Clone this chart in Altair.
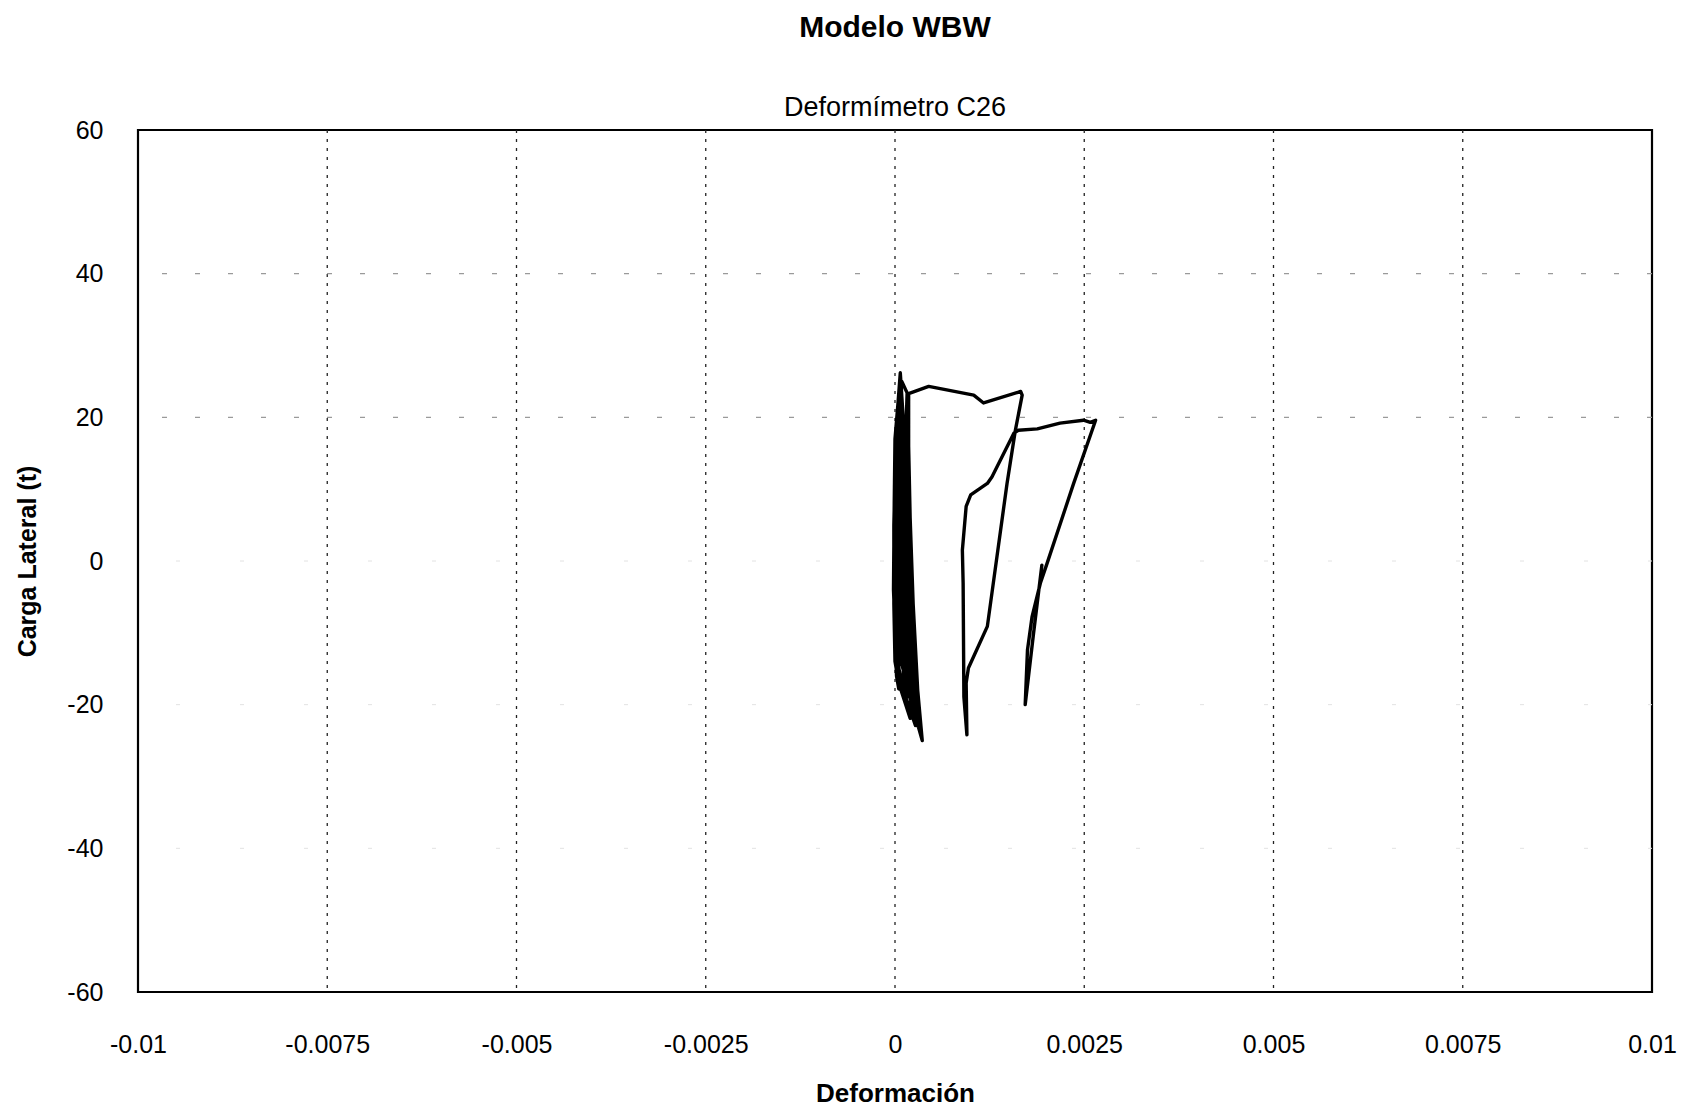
import altair as alt
import pandas as pd

# Hysteresis record of strain gauge C26: strain (x1e-4) and lateral load (t), in test order
strain_e4 = [
    0.0,
    # small cycles, growing amplitude
    0.2, 0.3, 0.2, 0.3, 0.5, 0.7, 0.5, 0.3,
    0.3, 0.4, 0.6, 0.4,
    0.5, 0.5, 0.2, 0.2, 0.5, 1.0, 0.9, 0.7,
    0.6, 0.3, 0.4, 1.1, 0.8,
    0.7, 0.6, 0.2, 0.0, 0.2, 0.8, 1.4, 1.3, 1.1, 0.9,
    0.7, 0.3, 0.1, 0.4, 1.4, 1.5, 1.2,
    1.0, 0.8, 0.3, 0.0, -0.1, 0.0, 0.4, 1.6, 1.8, 1.6, 1.3,
    0.8, 0.6, 0.1, -0.1, -0.1, 0.2, 0.5, 1.1, 1.8, 1.7, 1.5,
    1.0, 0.5, 0.1, -0.15, -0.15, 0.0, 0.5, 2.0, 2.2, 1.9, 1.6,
    1.3, 0.9, 0.4, 0.2, 0.3, 0.8, 2.3, 2.1, 1.7, 1.4,
    1.4, 1.0, 0.6, 0.2, 0.1, 0.0, 0.1, 0.5, 1.6, 1.9, 1.7, 1.5, 1.3,
    0.9, 0.4, 0.3, 0.4, 0.6, 1.0, 2.4, 2.2, 1.8, 1.4,
    1.1, 0.8, 0.5, 0.6, 0.8, 1.0, 1.3, 3.0, 2.8, 2.0, 1.2, 1.0,
    1.2, 0.7, 0.4, 0.0, -0.1, -0.2, 0.1, 0.8, 2.7, 2.6, 2.3, 1.9, 1.6, 1.5, 1.6,
    0.9, 0.3, 0.0, 0.2, 1.2, 3.6, 3.0, 2.4, 2.0, 1.8,
    # first large loop
    1.8, 4.45, 10.4, 11.7, 16.6, 16.8, 15.9, 14.8, 12.2, 9.7, 9.4, 9.5,
    9.1, 9.0, 8.9, 9.4, 10.0, 12.2, 12.8, 15.7, 16.3,
    # second large loop
    18.8, 21.8, 24.9, 25.8, 26.5, 23.6, 20.1, 19.2, 18.1, 17.5, 17.2,
    18.3, 19.4,
]
load_t = [
    0.0,
    3, 6, 3, 0, -3, -6, -3, 0,
    6, 3, -6, 0,
    5, 10, 5, 0, -5, -10, -5, 0,
    10, 4, -4, -10, 0,
    7, 14, 8, 0, -7, -14, -12, -4, 4, 10,
    14, 9, 0, -10, -14, -6, 4,
    12, 18, 14, 6, -4, -12, -17, -16, -8, 2, 10,
    12, 20, 14, 4, -8, -16, -17.8, -18, -12, 0, 10,
    18, 23, 17, 5, -6, -14, -17, -21.9, -14, -2, 8,
    16, 22, 18, 8, -4, -14, -20, -10, 2, 12,
    14, 21, 24, 19, 10, 0, -9, -15, -19, -12, -4, 6, 15,
    22, 20, 12, 2, -8, -14, -21, -13, -3, 8,
    17, 24, 21, 10, 0, -8, -15, -23, -15, -4, 6, 15,
    18, 26.2, 22, 17, 8, -4, -12, -17, -22.9, -16, -6, 4, 14, 20, 23.4,
    25, 18, 6, -8, -16, -25, -18, -6, 6, 16,
    23.3, 24.3, 23.1, 22.0, 23.6, 23.1, 18.2, 10.8, -9.1, -14.9, -17.0, -24.2,
    -18.9, -3.1, 1.5, 7.6, 9.2, 10.8, 11.7, 17.8, 18.2,
    18.4, 19.2, 19.6, 19.3, 19.6, 10.8, -0.3, -3.1, -7.8, -12.4, -20.0,
    -10.1, -0.6,
]

x_ticks = [-0.01, -0.0075, -0.005, -0.0025, 0, 0.0025, 0.005, 0.0075, 0.01]
y_ticks = [-60, -40, -20, 0, 20, 40, 60]
x_grid = [-0.0075, -0.005, -0.0025, 0, 0.0025, 0.005, 0.0075]
y_grid_upper = [40, 20]
y_grid_lower = [0, -20, -40]

FONT = "Liberation Sans"
W, H = 1514, 862

curve = pd.DataFrame({
    "i": range(len(strain_e4)),
    "strain": [s * 1e-4 for s in strain_e4],
    "load": load_t,
})

x_scale = alt.Scale(domain=[-0.01, 0.01], nice=False, zero=False)
y_scale = alt.Scale(domain=[-60, 60], nice=False, zero=False)

x_axis = alt.Axis(
    values=x_ticks, labelExpr="toString(datum.value)", grid=False, ticks=False,
    domain=False, labelFont=FONT, labelFontSize=25, labelColor="black",
    labelPadding=40, labelFlush=False, title="Deformación", titleFont=FONT,
    titleFontSize=26, titleFontWeight="bold", titleColor="black",
    titleX=W / 2, titleY=101, titleBaseline="middle", titleAlign="center",
)
y_axis = alt.Axis(
    values=y_ticks, labelExpr="toString(datum.value)", grid=False, ticks=False,
    domain=False, labelFont=FONT, labelFontSize=25, labelColor="black",
    labelPadding=35, labelFlush=False, title="Carga Lateral (t)", titleFont=FONT,
    titleFontSize=25, titleFontWeight="bold", titleColor="black",
    titleX=-111, titleY=H / 2, titleAngle=270, titleBaseline="middle",
    titleAlign="center",
)

vgrid = alt.Chart(pd.DataFrame({"v": x_grid})).mark_rule(
    color="#222", strokeWidth=1.3, strokeDash=[3, 6]
).encode(x=alt.X("v:Q", scale=x_scale, axis=x_axis))

hgrid_up = alt.Chart(pd.DataFrame({"v": y_grid_upper})).mark_rule(
    color="#9a9a9a", strokeWidth=1.2, strokeDash=[5, 28]
).encode(y=alt.Y("v:Q", scale=y_scale, axis=y_axis))

hgrid_low = alt.Chart(pd.DataFrame({"v": y_grid_lower})).mark_rule(
    color="#e2e2e2", strokeWidth=1, strokeDash=[4, 60]
).encode(y=alt.Y("v:Q", scale=y_scale))

line = alt.Chart(curve).mark_line(
    color="black", strokeWidth=3.4, strokeJoin="round", strokeCap="round"
).encode(
    x=alt.X("strain:Q", scale=x_scale),
    y=alt.Y("load:Q", scale=y_scale),
    order="i:Q",
)

chart = alt.layer(vgrid, hgrid_up, hgrid_low, line).properties(
    width=W,
    height=H,
    background="white",
    title=alt.TitleParams(
        text="Modelo WBW",
        subtitle="Deformímetro C26",
        font=FONT, fontSize=30, fontWeight="bold", color="black",
        subtitleFont=FONT, subtitleFontSize=27, subtitleColor="black",
        subtitlePadding=52, anchor="middle", offset=-3,
    ),
    autosize=alt.AutoSizeParams(type="none"),
    padding={"left": 138, "top": 130, "right": 35, "bottom": 120},
).configure_view(stroke="black", strokeWidth=2.2)

chart.save("out.html", embed_options={"renderer": "svg", "actions": False})
